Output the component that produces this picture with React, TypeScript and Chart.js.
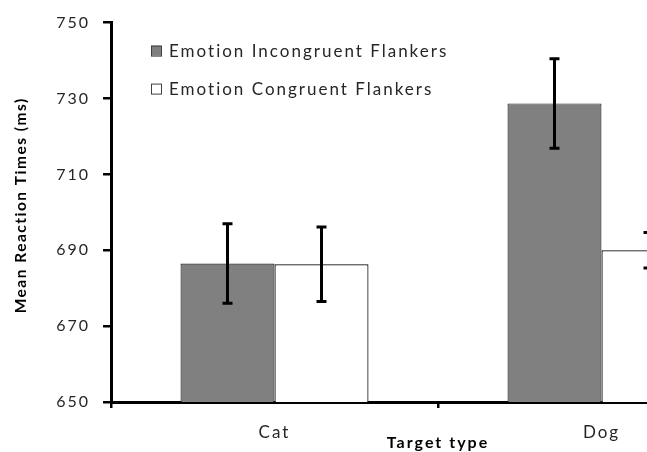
import React, { useEffect, useRef } from "react";
import { Chart, registerables } from "chart.js";

Chart.register(...registerables);

const categories = ["Cat", "Dog"];
const seriesLabels = ["Emotion Incongruent Flankers", "Emotion Congruent Flankers"];
const incongruentMeans = [686.5, 728.7];
const congruentMeans = [686.3, 690.0];
const incongruentErrors = [10.5, 11.8];
const congruentErrors = [9.8, 4.7];
const yTicks = [650, 670, 690, 710, 730, 750];
const yTitle = "Mean Reaction Times (ms)";
const xTitle = "Target type";

const LETTER_SPACING = "2px";

const letterSpacingPlugin = {
  id: "letterSpacing",
  beforeLayout(chart: any) {
    chart.ctx.letterSpacing = LETTER_SPACING;
  },
  beforeDraw(chart: any) {
    chart.ctx.letterSpacing = LETTER_SPACING;
  },
};

const errorBarPlugin = {
  id: "errorBars",
  afterDatasetsDraw(chart: any) {
    const ctx = chart.ctx;
    const yScale = chart.scales.y;
    chart.data.datasets.forEach((ds: any, i: number) => {
      const meta = chart.getDatasetMeta(i);
      meta.data.forEach((el: any, j: number) => {
        const v = ds.data[j] as number;
        const e = ds.errors[j] as number;
        const x = el.x;
        const top = yScale.getPixelForValue(v + e);
        const bot = yScale.getPixelForValue(v - e);
        ctx.save();
        ctx.strokeStyle = "#000";
        ctx.lineWidth = 3;
        ctx.lineCap = "butt";
        ctx.beginPath();
        ctx.moveTo(x, top);
        ctx.lineTo(x, bot);
        ctx.moveTo(x - 5, top);
        ctx.lineTo(x + 5, top);
        ctx.moveTo(x - 5, bot);
        ctx.lineTo(x + 5, bot);
        ctx.stroke();
        ctx.restore();
      });
    });
  },
};

const yTitlePlugin = {
  id: "yTitle",
  afterDraw(chart: any) {
    const ctx = chart.ctx;
    const { top, bottom } = chart.chartArea;
    ctx.save();
    ctx.letterSpacing = "1.5px";
    ctx.translate(21, (top + bottom) / 2 - 7);
    ctx.rotate(-Math.PI / 2);
    ctx.font = "bold 15.5px Lato";
    ctx.fillStyle = "#000";
    ctx.textAlign = "center";
    ctx.textBaseline = "middle";
    ctx.fillText(yTitle, 0, 0);
    ctx.restore();
  },
};

const insideLegendPlugin = {
  id: "insideLegend",
  afterDraw(chart: any) {
    const ctx = chart.ctx;
    const left = chart.chartArea.left + 40;
    const top = chart.chartArea.top + 28;
    const gap = 38;
    chart.data.datasets.forEach((ds: any, i: number) => {
      const cy = top + i * gap;
      ctx.save();
      ctx.letterSpacing = LETTER_SPACING;
      ctx.fillStyle = ds.backgroundColor;
      ctx.fillRect(left, cy - 5, 10, 10);
      ctx.strokeStyle = "#404040";
      ctx.lineWidth = 1;
      ctx.strokeRect(left + 0.5, cy - 4.5, 10, 10);
      ctx.font = "17px Lato";
      ctx.fillStyle = "#262626";
      ctx.textBaseline = "middle";
      ctx.textAlign = "left";
      ctx.fillText(ds.label, left + 18, cy + 1);
      ctx.restore();
    });
  },
};

export default function App() {
  const ref = useRef<HTMLCanvasElement>(null);

  useEffect(() => {
    if (!ref.current) return;
    const chart = new Chart(ref.current, {
      type: "bar",
      data: {
        labels: categories,
        datasets: [
          {
            label: seriesLabels[0],
            data: incongruentMeans,
            errors: incongruentErrors,
            backgroundColor: "#808080",
            borderColor: "#2e2e2e",
            borderWidth: 1.2,
            borderSkipped: false,
            categoryPercentage: 0.575,
            barPercentage: 1,
          } as any,
          {
            label: seriesLabels[1],
            data: congruentMeans,
            errors: congruentErrors,
            backgroundColor: "#ffffff",
            borderColor: "#000000",
            borderWidth: 1.2,
            borderSkipped: false,
            categoryPercentage: 0.575,
            barPercentage: 1,
          } as any,
        ],
      },
      options: {
        animation: false,
        responsive: false,
        maintainAspectRatio: false,
        devicePixelRatio: 1,
        layout: { padding: { left: 0, right: 15, top: 22, bottom: 0 } },
        plugins: {
          legend: { display: false },
          tooltip: { enabled: false },
        },
        scales: {
          x: {
            grid: {
              offset: true,
              drawOnChartArea: false,
              drawTicks: true,
              tickLength: 6,
              color: "#000",
              lineWidth: 2.5,
            },
            border: { color: "#000", width: 3 },
            ticks: {
              font: { family: "Lato", size: 17 },
              color: "#262626",
              padding: 14,
            },
            title: {
              display: true,
              text: xTitle,
              font: { family: "Lato", size: 16, weight: "bold" },
              color: "#000",
              padding: { top: 0, bottom: 0 },
            },
            afterFit(s: any) {
              s.height = 50;
            },
          },
          y: {
            min: yTicks[0],
            max: yTicks[yTicks.length - 1],
            afterBuildTicks(s: any) {
              s.ticks = yTicks.map((v) => ({ value: v }));
            },
            ticks: {
              font: { family: "Lato", size: 16 },
              color: "#262626",
              padding: 13,
            },
            grid: {
              drawOnChartArea: false,
              drawTicks: true,
              tickLength: 8,
              color: "#000",
              lineWidth: 2.5,
            },
            border: { color: "#000", width: 3 },
            title: { display: false },
            afterFit(s: any) {
              s.width = 111;
            },
          },
        },
      } as any,
      plugins: [letterSpacingPlugin, errorBarPlugin, yTitlePlugin, insideLegendPlugin],
    });
    return () => chart.destroy();
  }, []);

  return (
    <div
      style={{
        position: "fixed",
        left: 0,
        top: 0,
        width: 647,
        height: 452,
        overflow: "hidden",
        background: "#fff",
      }}
    >
      <canvas ref={ref} width={780} height={452} style={{ display: "block" }} />
    </div>
  );
}
